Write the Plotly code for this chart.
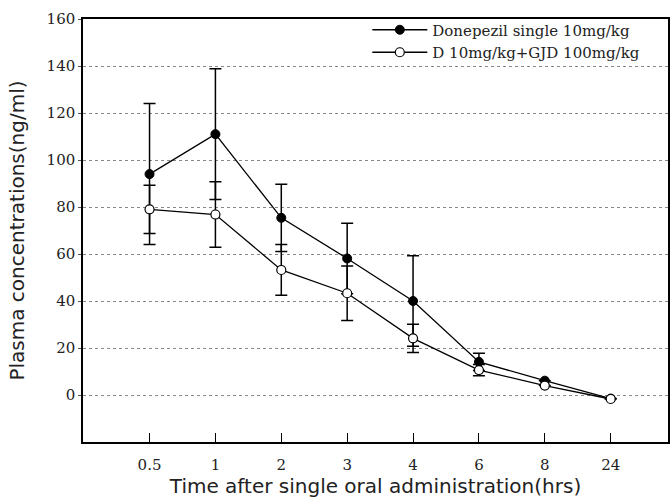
import plotly.graph_objects as go

times = ["0.5", "1", "2", "3", "4", "6", "8", "24"]
done_mean = [94.0, 111.0, 75.4, 58.1, 40.0, 14.1, 6.1, -1.5]
done_sd = [30.0, 27.8, 14.3, 15.0, 19.3, 3.7, 0.0, 0.0]
gjd_mean = [79.0, 76.8, 53.2, 43.3, 24.1, 10.6, 4.0, -1.7]
gjd_sd = [10.3, 13.9, 10.8, 11.6, 6.0, 2.4, 0.0, 0.0]
yticks = [0, 20, 40, 60, 80, 100, 120, 140, 160]

serif = "DejaVu Serif, Liberation Serif, serif"
sans = "DejaVu Sans, Liberation Sans, sans-serif"

fig = go.Figure()
fig.add_trace(go.Scatter(
    x=times, y=done_mean, mode="lines+markers",
    name="Donepezil single 10mg/kg",
    line=dict(color="black", width=1.3),
    marker=dict(symbol="circle", size=9, color="black", line=dict(color="black", width=1)),
    error_y=dict(type="data", array=done_sd, color="black", thickness=1.5, width=6),
))
fig.add_trace(go.Scatter(
    x=times, y=gjd_mean, mode="lines+markers",
    name="D 10mg/kg+GJD 100mg/kg",
    line=dict(color="black", width=1.3),
    marker=dict(symbol="circle", size=9, color="white", line=dict(color="black", width=1.2)),
    error_y=dict(type="data", array=gjd_sd, color="black", thickness=1.5, width=6),
))

fig.update_layout(
    width=670, height=501,
    margin=dict(l=83, r=2, t=19, b=59, autoexpand=False),
    paper_bgcolor="white", plot_bgcolor="white",
    showlegend=True,
    legend=dict(x=0.486, y=1.013, xanchor="left", yanchor="top",
                bgcolor="rgba(255,255,255,0)", font=dict(family=serif, size=15, color="#222"),
                tracegroupgap=0, itemwidth=55),
    font=dict(family=serif, color="#222"),
)
fig.update_xaxes(
    type="category", categoryorder="array", categoryarray=times,
    range=[-1.01, 7.87], automargin=False,
    showline=True, linecolor="black", linewidth=1.5, mirror=True,
    ticks="inside", ticklen=9, tickwidth=1.3, tickcolor="black",
    ticklabelstandoff=8,
    showgrid=False, zeroline=False,
    tickfont=dict(family=serif, size=15, color="#222"),
    title=dict(text="Time after single oral administration(hrs)",
               font=dict(family=sans, size=20, color="#222"), standoff=5),
)
fig.update_yaxes(
    range=[-20, 160], tickvals=yticks, automargin=False,
    showline=True, linecolor="black", linewidth=1.5, mirror=True,
    ticks="outside", ticklen=3, tickcolor="#555",
    showgrid=True, gridcolor="#888", griddash="3px,3px", gridwidth=1,
    zeroline=False,
    tickfont=dict(family=serif, size=15, color="#222"),
    title=dict(text="Plasma concentrations(ng/ml)",
               font=dict(family=sans, size=20, color="#222"), standoff=17),
)

fig.write_html("out.html", config={"displayModeBar": False},
               post_script="document.body.style.margin='0';")
